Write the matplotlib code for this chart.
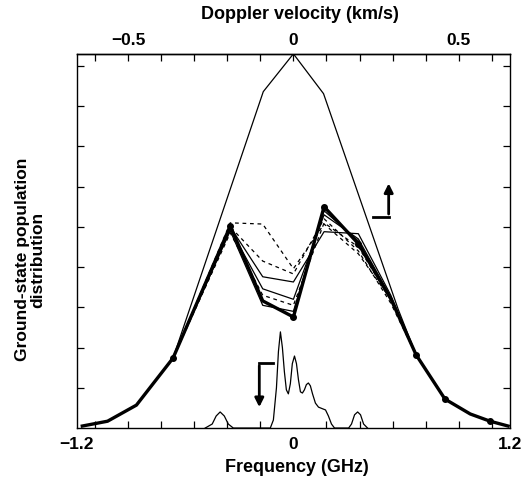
import numpy as np
import matplotlib
matplotlib.use('Agg')
import matplotlib.pyplot as plt

plt.rcParams['font.family'] = ['Liberation Sans', 'DejaVu Sans']
plt.rcParams['font.weight'] = 'bold'

GHZ_PER_KMS = 1.833

# envelope (no saturation)
env_f = [-1.17, -1.03, -0.87, -0.667, -0.167, 0.0, 0.167, 0.58, 0.68, 0.84, 0.98, 1.09, 1.19]
env_y = [0.05, 0.17, 0.57, 1.74, 8.36, 9.30, 8.31, 2.96, 1.82, 0.72, 0.35, 0.17, 0.05]

# double-hump family
fam_f = [-1.17, -1.03, -0.87, -0.667, -0.35, -0.17, 0.0, 0.17, 0.36, 0.54, 0.68, 0.84, 0.98, 1.09, 1.19]
wing_l = [0.05, 0.17, 0.57, 1.74]
wing_r = [1.82, 0.72, 0.35, 0.17, 0.05]
mid_thick = [5.02, 3.16, 2.76, 5.50, 4.58, 3.21]
mid_solid1 = [5.00, 3.76, 3.63, 4.88, 4.83, 3.30]
mid_solid2 = [4.95, 3.46, 3.20, 5.30, 4.70, 3.25]
mid_solid3 = [4.90, 3.05, 2.90, 5.40, 4.65, 3.22]
mid_dash1 = [5.10, 5.07, 3.96, 5.07, 4.33, 3.20]
mid_dash2 = [5.00, 4.15, 3.83, 5.20, 4.40, 3.10]
mid_dash3 = [4.85, 3.30, 3.05, 5.10, 4.50, 3.18]

# laser spectrum
spec_f = [-0.489, -0.450, -0.428, -0.406, -0.383, -0.361, -0.333, -0.128, -0.111, -0.094,
          -0.083, -0.072, -0.061, -0.050, -0.039, -0.028, -0.017, -0.006, 0.006, 0.017,
          0.028, 0.039, 0.050, 0.061, 0.072, 0.083, 0.094, 0.106, 0.122, 0.139,
          0.161, 0.178, 0.194, 0.211, 0.228, 0.306, 0.322, 0.339, 0.356, 0.372,
          0.389, 0.411]
spec_y = [0.0, 0.1, 0.3, 0.4, 0.3, 0.1, 0.0, 0.0, 0.2, 1.0,
          1.9, 2.39, 2.0, 1.4, 0.95, 0.85, 1.1, 1.6, 1.79, 1.6,
          1.2, 0.9, 0.87, 0.95, 1.08, 1.12, 1.05, 0.85, 0.62, 0.52,
          0.48, 0.45, 0.3, 0.1, 0.0, 0.0, 0.1, 0.33, 0.4, 0.33,
          0.1, 0.0]

vel_ticks = [-0.6, -0.5, -0.4, -0.3, -0.2, -0.1, 0.0, 0.1, 0.2, 0.3, 0.4, 0.5, 0.6]

fig = plt.figure(figsize=(5.23, 4.81), dpi=100)
ax = fig.add_axes([0.147, 0.108, 0.828, 0.778])

ax.plot(env_f, env_y, color='black', lw=0.9)

for mid, ls in [(mid_solid1, '-'), (mid_solid2, '-'), (mid_solid3, '-'),
                (mid_dash1, (0, (3, 3))), (mid_dash2, (0, (3, 3))),
                (mid_dash3, (0, (3, 3)))]:
    ax.plot(fam_f, wing_l + mid + wing_r, color='black', lw=0.9, linestyle=ls)
ax.plot(fam_f, wing_l + mid_thick + wing_r, color='black', lw=2.4,
        marker='o', ms=4, markevery=[3, 4, 6, 7, 8, 10, 11, 13])

ax.plot(spec_f, spec_y, color='black', lw=0.9)

# pump / probe arrows
ax.plot([0.439, 0.528], [5.25, 5.25], color='black', lw=2)
ax.annotate('', xy=(0.528, 6.15), xytext=(0.528, 5.25),
            arrowprops=dict(arrowstyle='-|>', color='black', lw=2, mutation_scale=13))
ax.plot([-0.189, -0.111], [1.62, 1.62], color='black', lw=2)
ax.annotate('', xy=(-0.189, 0.45), xytext=(-0.189, 1.62),
            arrowprops=dict(arrowstyle='-|>', color='black', lw=2, mutation_scale=13))

ax.set_xlim(-1.2, 1.2)
ax.set_ylim(0, 9.3)

ax.set_xticks([-1.2, 0, 1.2])
ax.set_xticklabels(['\u22121.2', '0', '1.2'], fontsize=12.5, fontweight='bold')
ax.set_xticks([v * GHZ_PER_KMS for v in vel_ticks], minor=True)
ax.tick_params(axis='x', which='major', length=0, pad=6)
ax.tick_params(axis='x', which='minor', direction='in', length=5, width=0.9)
ax.set_yticks([1, 2, 3, 4, 5, 6, 7, 8, 9])
ax.set_yticklabels([])
ax.tick_params(axis='y', direction='in', length=5, width=0.9, right=True)

top = ax.secondary_xaxis('top', functions=(lambda f: f / GHZ_PER_KMS, lambda v: v * GHZ_PER_KMS))
top.set_xticks([-0.5, 0, 0.5])
top.set_xticklabels(['\u22120.5', '0', '0.5'], fontsize=12.5, fontweight='bold')
top.set_xticks(vel_ticks, minor=True)
top.tick_params(axis='x', which='major', direction='in', length=5, width=0.9, pad=5)
top.tick_params(axis='x', which='minor', direction='in', length=5, width=0.9)

for s in ax.spines.values():
    s.set_linewidth(1.0)
top.spines['top'].set_linewidth(1.0)

fig.text(0.573, 0.97, 'Doppler velocity (km/s)', ha='center', va='center',
         fontsize=13, fontweight='bold')
fig.text(0.568, 0.028, 'Frequency (GHz)', ha='center', va='center',
         fontsize=13, fontweight='bold')
fig.text(0.058, 0.46, 'Ground-state population\ndistribution', ha='center', va='center',
         rotation=90, fontsize=12.5, fontweight='bold', multialignment='center',
         linespacing=1.0)

fig.savefig('out.png', dpi=100)
